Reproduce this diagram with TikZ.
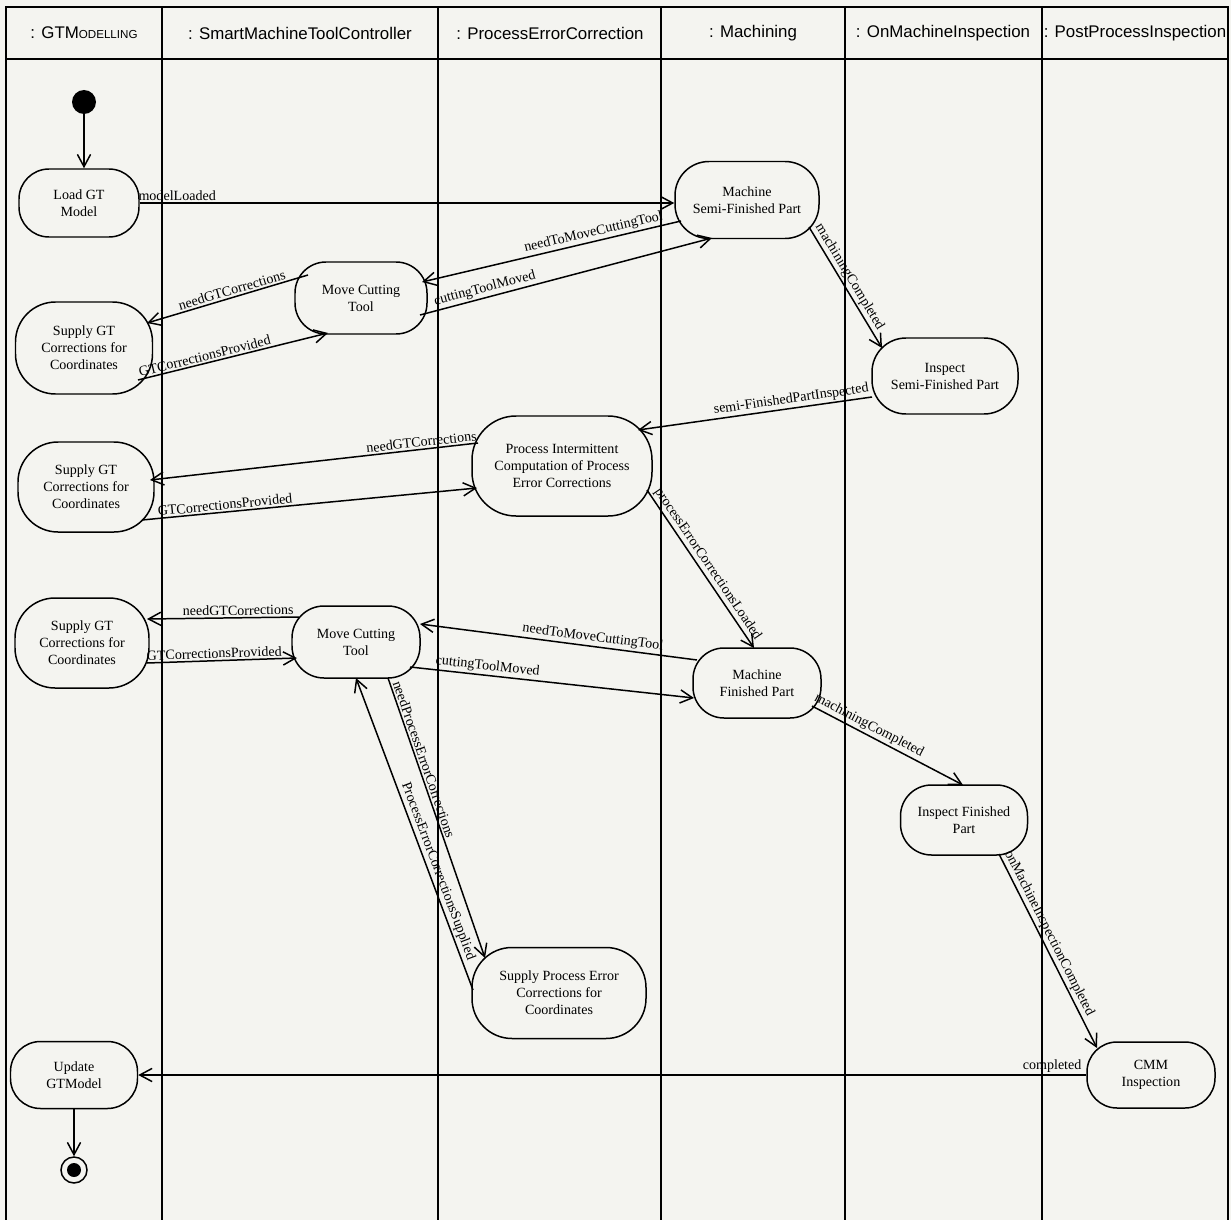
\documentclass[tikz,border=0pt]{standalone}
\usepackage{fontspec}
\setmainfont{Liberation Serif}
\newfontfamily\headfont{Liberation Sans}
\usetikzlibrary{arrows.meta,calc}
\definecolor{paper}{RGB}{244,244,240}
\pgfdeclarelayer{back}
\pgfsetlayers{back,main}
\newcommand{\actfont}{\fontsize{8}{9.7}\selectfont}
\newcommand{\laneheadfont}{\headfont\fontsize{9.6}{11}\selectfont}
\begin{document}
\begin{tikzpicture}[x=0.02cm, y=-0.02cm,
  activity/.style n args={3}{draw, line width=0.85pt,
    rounded corners=#3*0.02cm, minimum width=#1*0.02cm,
    minimum height=#2*0.02cm, inner sep=0pt, align=center, font=\actfont},
  flow/.style={line width=0.85pt,
    -{Straight Barb[length=7pt,width=7.5pt,line width=0.85pt]}},
  lbl/.style={sloped, above, inner sep=1pt, font=\actfont},
  lane/.style={line width=0.75pt},
  lanehead/.style={font=\laneheadfont, inner sep=0pt}]

\useasboundingbox (0,0) rectangle (1231,1220);

% paper, swimlane frame and headers
\begin{pgfonlayer}{back}
  \fill[paper] (0,0) rectangle (1231,1220);
  \draw[lane] (6,1220) -- (6,7) -- (1228,7) -- (1228,1220);
  \draw[lane] (6,59) -- (1228,59);
  \foreach \xx in {162,438,661,845,1042}
    \draw[lane] (\xx,7) -- (\xx,1220);
\end{pgfonlayer}
\node[lanehead] (h1) at (84,33)   {: GTM{\fontsize{6.6}{8}\selectfont ODELLING}};
\node[lanehead] (h2) at (300,33)  {: SmartMachineToolController};
\node[lanehead] (h3) at (550,33)  {: ProcessErrorCorrection};
\node[lanehead] (h4) at (753,33)  {: Machining};
\node[lanehead] (h5) at (943,33)  {: OnMachineInspection};
\node[lanehead] (h6) at (1135,33) {: PostProcessInspection};

% states
\node[circle, fill=black, minimum size=24*0.02cm, inner sep=0pt] (start) at (84,102) {};
\node[activity={120}{68}{30}]  (load) at (79,203)  {Load GT\\Model};
\node[activity={144}{77}{34}]  (msf)  at (747,200) {Machine\\Semi-Finished Part};
\node[activity={132}{72}{31}]  (mct1) at (361,298) {Move Cutting\\Tool};
\node[activity={137}{92}{40}]  (sgt1) at (84,348)  {Supply GT\\Corrections for\\Coordinates};
\node[activity={146}{76}{34}]  (isf)  at (945,376) {Inspect\\Semi-Finished Part};
\node[activity={180}{100}{44}] (pic)  at (562,466) {Process Intermittent\\Computation of Process\\Error Corrections};
\node[activity={136}{90}{40}]  (sgt2) at (86,487)  {Supply GT\\Corrections for\\Coordinates};
\node[activity={134}{90}{40}]  (sgt3) at (82,643)  {Supply GT\\Corrections for\\Coordinates};
\node[activity={128}{72}{32}]  (mct2) at (356,642) {Move Cutting\\Tool};
\node[activity={128}{70}{31}]  (mf)   at (757,683) {Machine\\Finished Part};
\node[activity={127}{70}{31}]  (ifp)  at (964,820) {Inspect Finished\\Part};
\node[activity={174}{91}{40}]  (spe)  at (559,993) {Supply Process Error\\Corrections for\\Coordinates};
\node[activity={128}{66}{30}]  (cmm)  at (1151,1075) {CMM\\Inspection};
\node[activity={127}{67}{30}]  (upd)  at (74,1075) {Update\\GTModel};
\node[circle, draw, line width=0.85pt, minimum size=26*0.02cm, inner sep=0pt] (final) at (74,1170) {};
\fill (final) circle[radius=7];

% transitions
\draw[flow] (start) -- (start |- load.north);
\draw[flow] (load.east) -- node[lbl, pos=0.07] {modelLoaded} (load.east -| msf.west);
\draw[flow] ($(msf)+(-66,21)$) -- node[lbl, pos=0.33] {needToMoveCuttingTool} ($(mct1)+(61,-16)$);
\draw[flow] ($(mct1)+(59,17)$) -- node[lbl, pos=0.23] {cuttingToolMoved} ($(msf)+(-35,38)$);
\draw[flow] ($(mct1)+(-53,-23)$) -- node[lbl, pos=0.46] {needGTCorrections} ($(sgt1)+(63,-25)$);
\draw[flow] ($(sgt1)+(54,32)$) -- node[lbl, pos=0.36] {GTCorrectionsProvided} ($(mct1)+(-33,35)$);
\draw[flow] ($(msf)+(62,27)$) -- node[lbl, pos=0.45] {machiningCompleted} ($(isf)+(-63,-28)$);
\draw[flow] ($(isf)+(-73,21)$) -- node[lbl, pos=0.34] {semi-FinishedPartInspected} ($(pic)+(76,-36)$);
\draw[flow] ($(pic)+(-84,-23)$) -- node[lbl, pos=0.17] {needGTCorrections} ($(sgt2)+(64,-7)$);
\draw[flow] ($(sgt2)+(56,33)$) -- node[lbl, pos=0.25] {GTCorrectionsProvided} ($(pic)+(-85,22)$);
\draw[flow] ($(pic)+(85,24)$) -- node[lbl, pos=0.5] {processErrorCorrectionsLoaded} ($(mf)+(-3,-35)$);
\draw[flow] ($(mct2)+(-57,-25)$) -- node[lbl, pos=0.4] {needGTCorrections} ($(sgt3)+(65,-24)$);
\draw[flow] ($(sgt3)+(65,20)$) -- node[lbl, pos=0.45] {GTCorrectionsProvided} ($(mct2)+(-59,16)$);
\draw[flow] ($(mf)+(-60,-23)$) -- node[lbl, pos=0.38] {needToMoveCuttingTool} ($(mct2)+(64,-18)$);
\draw[flow] ($(mct2)+(54,25)$) -- node[lbl, pos=0.27] {cuttingToolMoved} ($(mf)+(-63,15)$);
\draw[flow] ($(mf)+(55,23)$) -- node[lbl, pos=0.35] {machiningCompleted} ($(ifp)+(-1,-35)$);
\draw[flow] ($(mct2)+(32,36)$) -- node[lbl, pos=0.3] {needProcessErrorCorrections} ($(spe)+(-74,-35)$);
\draw[flow] ($(spe)+(-86,-3)$) -- node[lbl, pos=0.37] {ProcessErrorCorrectionsSupplied} ($(mct2)+(0,36)$);
\draw[flow] ($(ifp)+(35,34)$) -- node[lbl, pos=0.43] {onMachineInspectionCompleted} ($(cmm)+(-54,-27)$);
\draw[flow] (cmm.west) -- node[lbl, pos=0.036] {completed} (upd.east);
\draw[flow] (upd.south) -- (final.north);
\end{tikzpicture}
\end{document}
